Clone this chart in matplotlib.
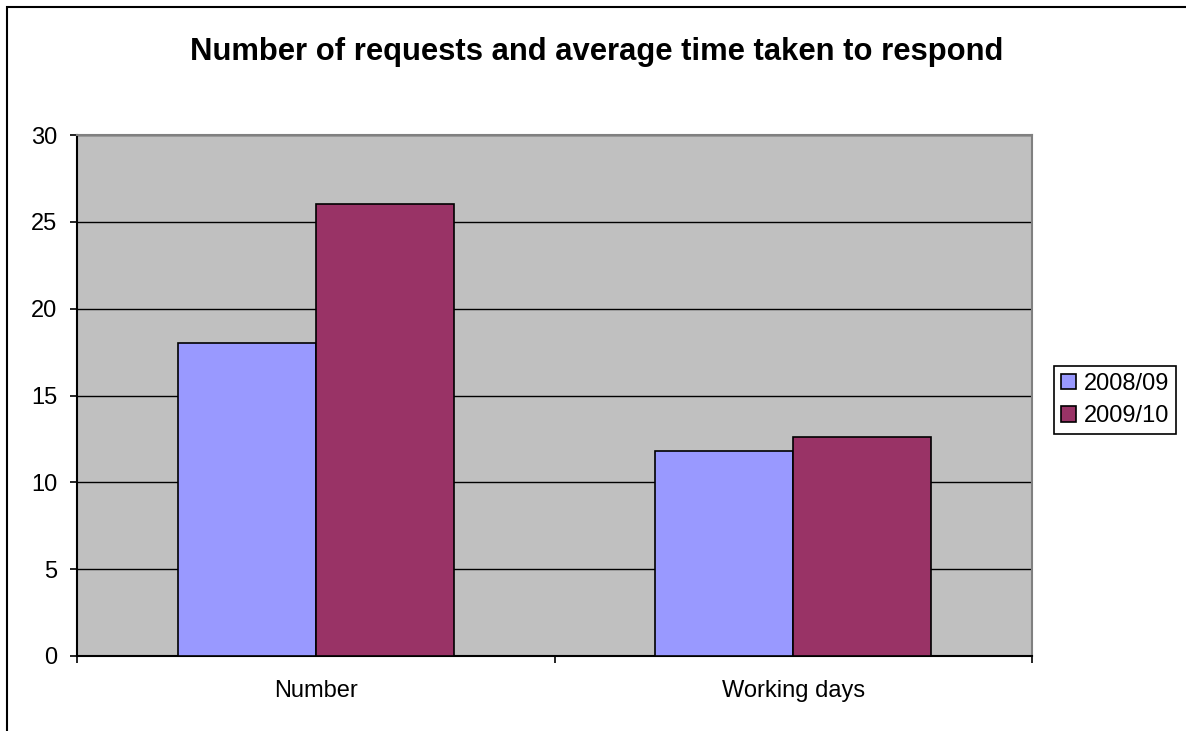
import matplotlib
matplotlib.use('Agg')
import matplotlib.pyplot as plt
from matplotlib.patches import Rectangle
import numpy as np

plt.rcParams['font.family'] = ['Liberation Sans', 'DejaVu Sans']

categories = ['Number', 'Working days']
series_names = ['2008/09', '2009/10']
values_0809 = [18, 11.8]
values_0910 = [26, 12.6]
colors = ['#9999FF', '#993366']

W, H = 1186, 731
fig = plt.figure(figsize=(W / 100, H / 100), dpi=100)

# outer chart border (only left/top visible in reference)
fig.patches.append(Rectangle((6.5 / W, -0.1), 1.2, 1 - 7.5 / H + 0.1,
                             transform=fig.transFigure, fill=False,
                             edgecolor='black', linewidth=1.5))

ax = fig.add_axes([77 / W, 1 - 656 / H, (1032 - 77) / W, (656 - 135) / H])
ax.set_facecolor('#C0C0C0')

x = np.arange(len(categories))
bw = 0.289
b1 = ax.bar(x - bw / 2, values_0809, bw, color=colors[0], edgecolor='black',
            linewidth=1.2, label=series_names[0], zorder=3)
b2 = ax.bar(x + bw / 2, values_0910, bw, color=colors[1], edgecolor='black',
            linewidth=1.2, label=series_names[1], zorder=3)

ax.set_xlim(-0.5, 1.5)
ax.set_ylim(0, 30)
ax.set_yticks(range(0, 31, 5))
ax.yaxis.grid(True, color='black', linewidth=1)
ax.set_axisbelow(True)

ax.set_xticks([-0.5, 0.5, 1.5])
ax.set_xticklabels([])
ax.set_xticks(x, minor=True)
ax.set_xticklabels(categories, minor=True)
ax.tick_params(axis='x', which='major', direction='out', length=5, width=1.2, color='black')
ax.tick_params(axis='x', which='minor', length=0, pad=17, labelsize=17)
ax.tick_params(axis='y', direction='out', length=5, width=1.2, pad=9, labelsize=17)

for s in ['left', 'bottom']:
    ax.spines[s].set_color('black')
    ax.spines[s].set_linewidth(1.5)
for s in ['top', 'right']:
    ax.spines[s].set_color('#808080')
    ax.spines[s].set_linewidth(1.5)

fig.text(597 / W, 1 - 52 / H, 'Number of requests and average time taken to respond',
         ha='center', va='center', fontsize=22.3, fontweight='bold')

leg = fig.legend(handles=[b1, b2], loc='center left',
                 bbox_to_anchor=(1054 / W, 1 - 400 / H), fontsize=17,
                 frameon=True, fancybox=False, framealpha=1, edgecolor='black',
                 handlelength=0.62, handleheight=0.62, handletextpad=0.35,
                 borderpad=0.3, labelspacing=0.45, borderaxespad=0)
leg.get_frame().set_linewidth(1.2)

fig.savefig('out.png', dpi=100)
